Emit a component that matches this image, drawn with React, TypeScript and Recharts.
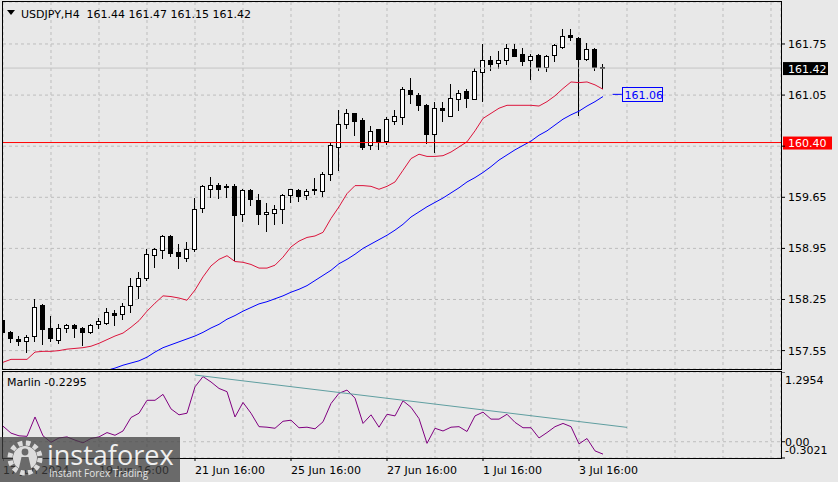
import { ComposedChart, Bar, Line, XAxis, YAxis, CartesianGrid, ReferenceLine } from 'recharts'

const FONT = '"DejaVu Sans", Tahoma, sans-serif'
const BG = '#e8e8e8'
const GRID = '#bdbdbd'

// H4 bars, 17 Jun 16:00 .. 3 Jul 2024
const opens = [
  157.97, 157.8, 157.71, 157.68, 157.75, 158.17, 157.86, 157.7, 157.86, 157.9,
  157.86, 157.8, 157.91, 157.93, 158.07, 158.05, 158.17, 158.44, 158.55, 158.86,
  158.93, 159.12, 158.9, 158.82, 158.94, 159.5, 159.77, 159.82, 159.81, 159.8,
  159.42, 159.75, 159.61, 159.42, 159.44, 159.49, 159.68, 159.75, 159.68, 159.75,
  159.74, 159.97, 160.34, 160.66, 160.8, 160.71, 160.37, 160.58, 160.42, 160.7,
  160.75, 161.12, 161.05, 160.92, 160.52, 160.87, 160.77, 160.99, 161.1, 161.0,
  161.36, 161.53, 161.49, 161.53, 161.68, 161.61, 161.53, 161.6, 161.43, 161.6,
  161.71, 161.87, 161.83, 161.54, 161.68, 161.44,
]
const highs = [
  158.0, 157.82, 157.75, 157.77, 158.25, 158.19, 158.02, 157.91, 157.92, 157.91,
  157.88, 157.92, 157.99, 158.13, 158.11, 158.2, 158.55, 158.63, 158.94, 158.96,
  159.14, 159.13, 159.01, 159.04, 159.64, 159.82, 159.93, 159.85, 159.83, 159.83,
  159.76, 159.76, 159.7, 159.57, 159.55, 159.7, 159.77, 159.76, 159.77, 159.91,
  159.99, 160.39, 160.84, 160.86, 160.81, 160.74, 160.63, 160.59, 160.75, 160.84,
  161.16, 161.28, 161.08, 160.93, 160.96, 160.95, 161.2, 161.12, 161.13, 161.42,
  161.75, 161.59, 161.65, 161.75, 161.75, 161.7, 161.61, 161.61, 161.6, 161.75,
  161.95, 161.96, 161.85, 161.77, 161.69, 161.47,
]
const lows = [
  157.76, 157.67, 157.62, 157.53, 157.68, 157.64, 157.68, 157.66, 157.81, 157.74,
  157.62, 157.79, 157.86, 157.91, 157.9, 157.98, 158.08, 158.27, 158.52, 158.7,
  158.82, 158.84, 158.68, 158.78, 158.92, 159.45, 159.65, 159.64, 159.66, 158.79,
  159.33, 159.54, 159.29, 159.19, 159.29, 159.3, 159.58, 159.6, 159.62, 159.7,
  159.67, 159.89, 160.02, 160.6, 160.5, 160.31, 160.31, 160.31, 160.38, 160.66,
  160.66, 160.94, 160.85, 160.39, 160.27, 160.7, 160.76, 160.85, 160.89, 160.99,
  160.97, 161.4, 161.42, 161.47, 161.58, 161.46, 161.27, 161.39, 161.38, 161.52,
  161.7, 161.8, 160.78, 161.53, 161.39, 161.15,
]
const closes = [
  157.8, 157.72, 157.68, 157.74, 158.15, 157.84, 157.72, 157.86, 157.9, 157.86,
  157.81, 157.9, 157.95, 158.08, 158.04, 158.16, 158.44, 158.55, 158.87, 158.94,
  159.12, 158.89, 158.84, 158.94, 159.49, 159.8, 159.82, 159.77, 159.8, 159.41,
  159.75, 159.62, 159.42, 159.45, 159.49, 159.68, 159.76, 159.67, 159.73, 159.76,
  159.97, 160.37, 160.65, 160.81, 160.7, 160.34, 160.56, 160.41, 160.72, 160.76,
  161.13, 161.06, 160.91, 160.52, 160.87, 160.85, 161.01, 161.08, 161.01, 161.38,
  161.53, 161.47, 161.53, 161.69, 161.59, 161.52, 161.59, 161.44, 161.59, 161.74,
  161.86, 161.84, 161.54, 161.68, 161.44, 161.42,
]
const redMa = [
  157.39, 157.43, 157.43, 157.43, 157.53, 157.54, 157.54, 157.55, 157.57, 157.58,
  157.59, 157.61, 157.65, 157.7, 157.75, 157.79, 157.87, 157.96, 158.09, 158.2,
  158.3, 158.29, 158.27, 158.24, 158.38, 158.56, 158.71, 158.8, 158.85, 158.77,
  158.76, 158.73, 158.68, 158.68, 158.72, 158.83, 158.97, 159.05, 159.1, 159.12,
  159.17, 159.36, 159.52, 159.7, 159.81, 159.81, 159.8, 159.76, 159.8, 159.86,
  160.02, 160.18, 160.24, 160.21, 160.21, 160.22, 160.27, 160.34, 160.41, 160.56,
  160.73, 160.8, 160.87, 160.91, 160.91, 160.91, 160.91, 160.9, 160.96, 161.04,
  161.14, 161.23, 161.22, 161.23, 161.19, 161.13,
]
const blueMa = [
  null, null, null, null, null, null, null, null, null, null, null, null, null,
  157.28, 157.31, 157.35, 157.38, 157.41, 157.46, 157.53, 157.59, 157.63, 157.67,
  157.71, 157.75, 157.8, 157.86, 157.91, 157.98, 158.03, 158.09, 158.14, 158.19,
  158.22, 158.26, 158.3, 158.35, 158.39, 158.44, 158.51, 158.58, 158.65, 158.74,
  158.8, 158.87, 158.95, 159.01, 159.07, 159.13, 159.2, 159.28, 159.38, 159.45,
  159.52, 159.58, 159.64, 159.71, 159.78, 159.86, 159.92, 159.99, 160.07, 160.16,
  160.23, 160.3, 160.36, 160.42, 160.5, 160.56, 160.64, 160.72, 160.78, 160.83,
  160.9, 160.96, 161.03,
]
const marlin = [
  0.29, 0.16, 0.11, 0.1, 0.46, 0.11, -0.01, 0.07, 0.09, 0.03,
  -0.02, 0.06, 0.09, 0.17, 0.12, 0.2, 0.45, 0.53, 0.77, 0.77,
  0.88, 0.61, 0.5, 0.53, 1.02, 1.21, 1.11, 0.99, 0.93, 0.46,
  0.73, 0.53, 0.28, 0.27, 0.25, 0.38, 0.4, 0.26, 0.27, 0.24,
  0.37, 0.71, 0.9, 0.96, 0.81, 0.34, 0.5, 0.27, 0.51, 0.48,
  0.76, 0.64, 0.43, -0.03, 0.25, 0.2, 0.27, 0.28, 0.19, 0.48,
  0.55, 0.42, 0.42, 0.51, 0.36, 0.26, 0.26, 0.07, 0.17, 0.28,
  0.34, 0.28, -0.04, 0.06, -0.17, -0.23,
]

const timeTicks = [0, 12, 24, 36, 48, 60, 72]
const timeLabels = ['17 Jun 2024', '19 Jun 16:00', '21 Jun 16:00', '25 Jun 16:00', '27 Jun 16:00', '1 Jul 16:00', '3 Jul 16:00']
const gridBars = [6, 12, 18, 24, 30, 36, 42, 48, 54, 60, 66, 72, 78, 84, 90, 96]
const priceTicks = [157.55, 158.25, 158.95, 159.65, 160.35, 161.05, 161.75]
const marlinTicks = [-0.3021, 0, 1.2954]
const headerOhlc = [161.44, 161.47, 161.15, 161.42]
const marlinLast = '-0.2295'
const levelPrice = 160.4
const lastPrice = 161.42
const bluePrice = 161.06
const trendLine = [
  { bar: 24, value: 1.239 },
  { bar: 78, value: 0.267 },
]

const bars = closes.map((close, i) => ({
  bar: i,
  open: opens[i],
  high: highs[i],
  low: lows[i],
  close,
  range: [lows[i], highs[i]],
  red: redMa[i],
  blue: blueMa[i],
  marlin: marlin[i],
}))

function Candle(props: any) {
  const { x, y, width, height, payload } = props
  const { open, close, high, low } = payload
  const top = Math.min(y, y + height)
  const h = Math.abs(height)
  const py = (p: number) => top + ((high - p) / (high - low || 1)) * h
  const cx = Math.round(x + width / 2 - 0.01)
  const yo = Math.round(py(open))
  const yc = Math.round(py(close))
  const b0 = Math.min(yo, yc)
  const b1 = Math.max(yo, yc)
  const bull = close >= open
  return (
    <g>
      <line x1={cx + 0.5} x2={cx + 0.5} y1={Math.round(top)} y2={Math.round(top + h) + 1} stroke="#000" />
      {bull ? (
        <rect x={cx - 1.5} y={b0 + 0.5} width={4} height={Math.max(b1 - b0, 1)} fill="#fff" stroke="#000" />
      ) : (
        <rect x={cx - 2} y={b0} width={5} height={Math.max(b1 - b0, 1) + 1} fill="#000" />
      )}
    </g>
  )
}

function PriceTag(props: any) {
  const { viewBox, text, fill, w } = props
  if (!viewBox) return null
  const x = viewBox.x + viewBox.width + 2
  const y = viewBox.y
  return (
    <g>
      <rect x={x} y={y - 6} width={w} height={13} fill={fill} />
      <text x={x + 5} y={y + 4.5} fontSize={11} fontFamily={FONT} fill="#fff">{text}</text>
    </g>
  )
}

function BlueTag(props: any) {
  const { viewBox, text } = props
  if (!viewBox) return null
  const x = Math.round(viewBox.x + viewBox.width) + 0.5
  const y = Math.round(viewBox.y) + 0.5
  return (
    <g>
      <rect x={x} y={y - 7} width={40} height={14} fill={BG} stroke="#0000ff" />
      <text x={x + 2} y={y + 4.5} fontSize={11} fontFamily={FONT} fill="#0000ff">{text}</text>
    </g>
  )
}

function TimeTick(props: any) {
  const { x, y, payload } = props
  const label = timeLabels[timeTicks.indexOf(payload.value)]
  return (
    <text x={x} y={y} dy="0.71em" textAnchor="start" fontSize={11} fontFamily={FONT} fill="#000">{label}</text>
  )
}

function MarlinTick(props: any) {
  const { x, y, payload } = props
  const v = payload.value
  const shift = v === marlinTicks[2] ? 8.5 : v === marlinTicks[0] ? -7.5 : 0
  const label = v === 0 ? '0.00' : v.toFixed(4)
  return (
    <text x={x} y={y + shift} dy="0.355em" textAnchor="start" fontSize={11} fontFamily={FONT} fill="#000">{label}</text>
  )
}

export default function App() {
  const title = `USDJPY,H4  ${headerOhlc.map((v) => v.toFixed(2)).join(' ')}`
  return (
    <div style={{ position: 'absolute', left: 0, top: 0, width: 838, height: 482, background: BG, overflow: 'hidden', fontFamily: FONT }}>
      <div style={{ position: 'absolute', left: 3, top: 2 }}>
        <ComposedChart width={835} height={367} data={bars} margin={{ top: 0, right: 0, bottom: 0, left: 0 }}>
          <CartesianGrid stroke={GRID} strokeDasharray="3 3" />
          <XAxis hide type="number" dataKey="bar" domain={[0, 97.25]} ticks={gridBars} allowDataOverflow />
          <YAxis
            orientation="right"
            width={57}
            domain={[157.298, 162.325]}
            ticks={priceTicks}
            interval={0}
            allowDataOverflow
            axisLine={false}
            tickSize={4}
            tickMargin={3}
            tickLine={{ stroke: '#000' }}
            tick={{ fill: '#000', fontSize: 11, fontFamily: FONT }}
            // the 160.35 label sits under the 160.40 level tag
            tickFormatter={(v: number) => (Math.abs(v - levelPrice) < 0.1 ? '' : v.toFixed(2))}
          />
          <ReferenceLine y={lastPrice} stroke="#c4c4c4" />
          <Bar dataKey="range" barSize={5} shape={<Candle />} isAnimationActive={false} />
          <Line dataKey="red" type="linear" stroke="#dc143c" strokeWidth={1} dot={false} isAnimationActive={false} />
          <Line dataKey="blue" type="linear" stroke="#0000ff" strokeWidth={1} dot={false} isAnimationActive={false} />
          <ReferenceLine y={levelPrice} stroke="#ff0000" label={<PriceTag text={levelPrice.toFixed(2)} fill="#ff0000" w={49} />} />
          <ReferenceLine y={lastPrice} stroke="none" label={<PriceTag text={lastPrice.toFixed(2)} fill="#000" w={45} />} />
          <ReferenceLine
            segment={[{ x: 76.2, y: bluePrice }, { x: 77.35, y: bluePrice }]}
            stroke="#0000ff"
            label={<BlueTag text={bluePrice.toFixed(2)} />}
          />
        </ComposedChart>
      </div>

      <div style={{ position: 'absolute', left: 3, top: 372 }}>
        <ComposedChart width={835} height={110} data={bars} margin={{ top: 0, right: 0, bottom: 0, left: 0 }}>
          <CartesianGrid xAxisId="grid" stroke={GRID} strokeDasharray="3 3" />
          <XAxis xAxisId="grid" hide type="number" dataKey="bar" domain={[0, 97.25]} ticks={gridBars} allowDataOverflow />
          <XAxis
            type="number"
            dataKey="bar"
            domain={[0, 97.25]}
            ticks={timeTicks}
            interval={0}
            height={24}
            allowDataOverflow
            axisLine={false}
            tickSize={3}
            tickMargin={5}
            tickLine={{ stroke: '#000' }}
            tick={<TimeTick />}
          />
          <YAxis
            orientation="right"
            width={57}
            domain={[-0.3021, 1.2954]}
            ticks={marlinTicks}
            interval={0}
            allowDataOverflow
            axisLine={false}
            tickSize={4}
            tickMargin={0}
            tickLine={{ stroke: '#000' }}
            tick={<MarlinTick />}
          />
          <Line dataKey="marlin" type="linear" stroke="#800080" strokeWidth={1} dot={false} isAnimationActive={false} />
          <ReferenceLine
            segment={trendLine.map((p) => ({ x: p.bar, y: p.value }))}
            stroke="#5f9ea0"
            strokeWidth={1}
          />
        </ComposedChart>
      </div>

      <svg width={838} height={482} style={{ position: 'absolute', left: 0, top: 0, pointerEvents: 'none' }}>
        <rect x={2.5} y={1.5} width={779} height={368} fill="none" stroke="#000" />
        <rect x={2.5} y={371.5} width={779} height={87} fill="none" stroke="#000" />
        <path d="M7 10 H15 L11 15 Z" fill="#000" />
        <text x={21} y={17.5} fontSize={11} fontFamily={FONT} fill="#000" style={{ whiteSpace: 'pre' }}>{title}</text>
        <text x={7} y={386} fontSize={11} fontFamily={FONT} fill="#000">{`Marlin ${marlinLast}`}</text>

        <rect x={0} y={437} width={180} height={45} fill="rgba(62,62,62,0.74)" />
        <circle cx={25} cy={458} r={15} fill="none" stroke="#dcdcdc" strokeWidth={5} strokeDasharray="4.5 3.4" />
        <circle cx={25} cy={458} r={12} fill="#dcdcdc" />
        <circle cx={25} cy={452} r={3.4} fill="#6a6a6a" />
        <path d="M18.5 470 L21.5 457 H28.5 L31.5 470 Z" fill="#6a6a6a" />
        <text x={47} y={465} fontSize={27} fontFamily='"Open Sans", sans-serif' fill="#f0f0f0">instaforex</text>
        <text x={49} y={477} fontSize={10} fontFamily='"Open Sans", sans-serif' fill="#e4e4e4">Instant Forex Trading</text>
      </svg>
    </div>
  )
}
